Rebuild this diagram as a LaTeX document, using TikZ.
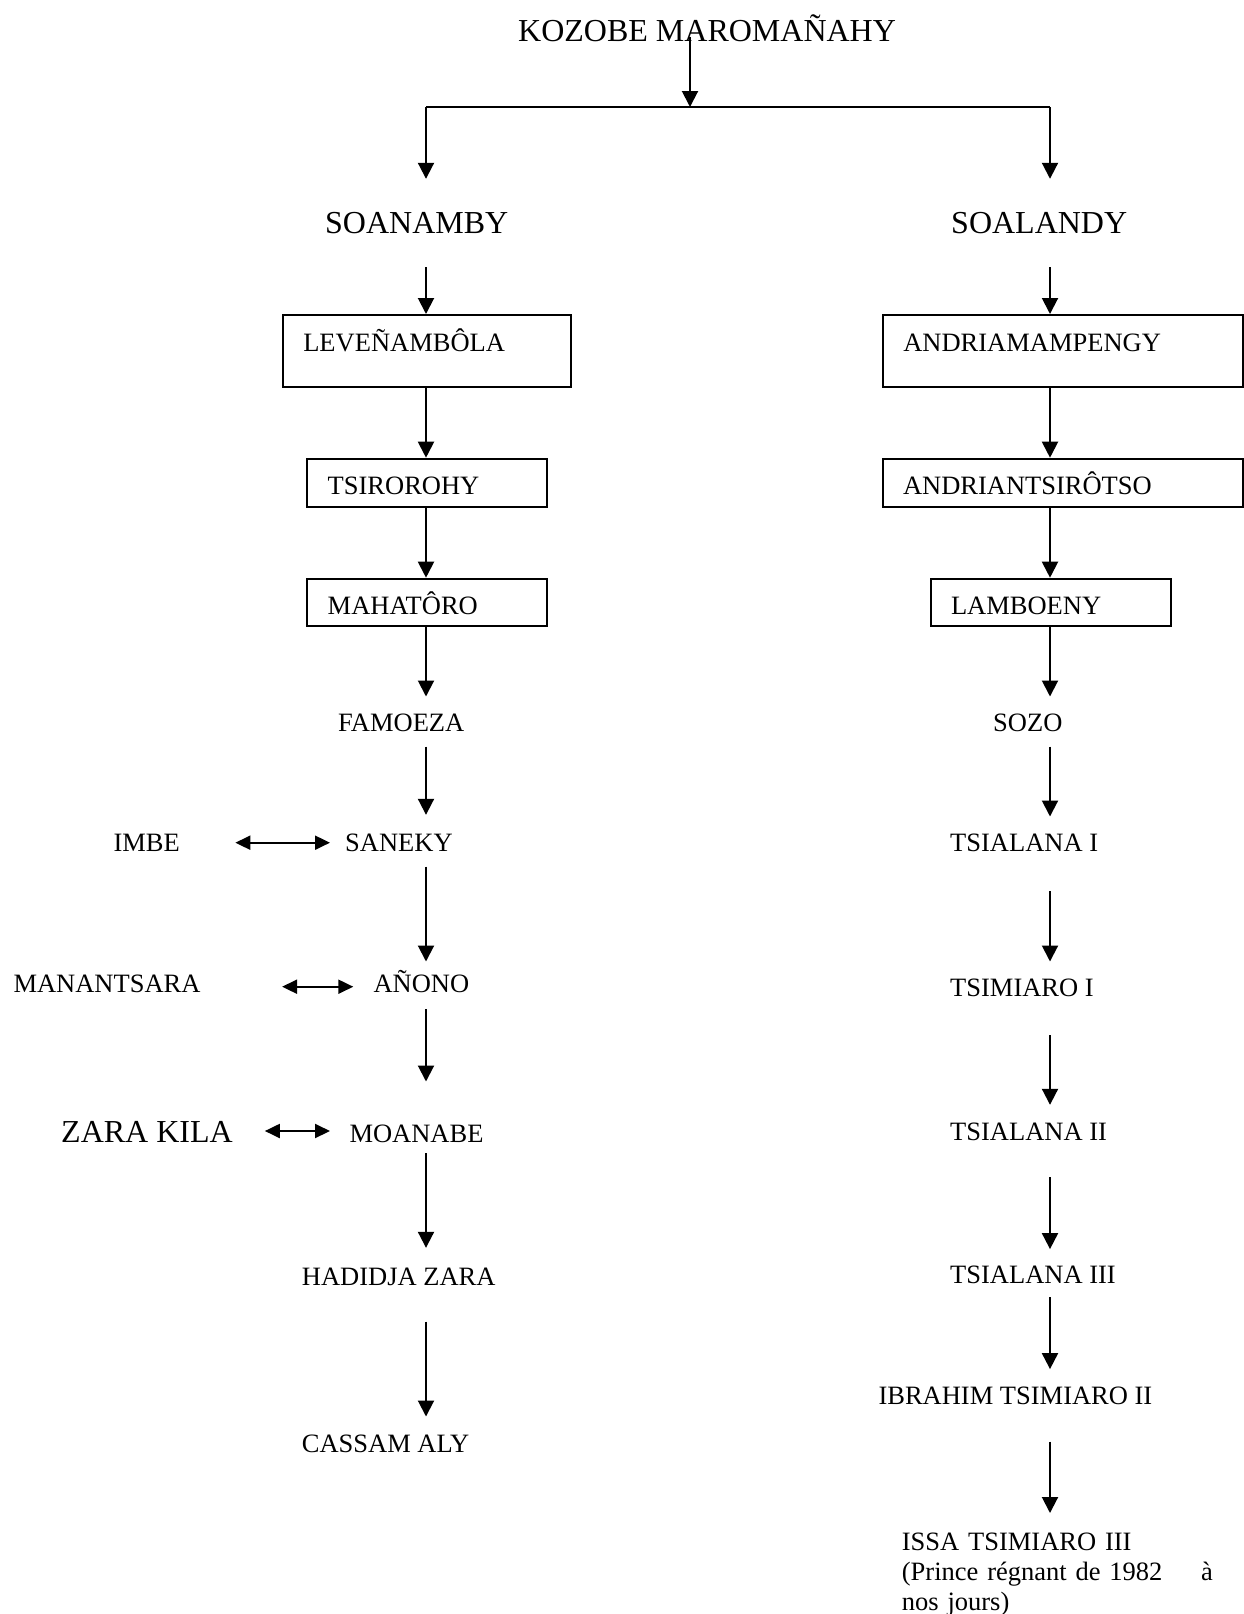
\documentclass[tikz,border=0pt]{standalone}
\usepackage{fontspec}
\setmainfont{Liberation Serif}
\usetikzlibrary{arrows.meta,calc}
\begin{document}
\begin{tikzpicture}[x=1pt,y=-1pt,
  lbl/.style={inner sep=0pt, anchor=base west, text height=18pt, text depth=0pt,
    font=\fontsize{26.5}{30}\selectfont},
  big/.style={lbl, text height=21pt, font=\fontsize{32}{36}\selectfont},
  gen/.style={draw, line width=2pt, anchor=north west, inner ysep=0pt, align=left,
    font=\fontsize{26.5}{30}\selectfont},
  arr/.style={line width=2pt, -{Triangle[width=16pt,length=16pt]}},
  dbl/.style={line width=2pt, {Triangle[width=14pt,length=15pt]}-{Triangle[width=14pt,length=15pt]}}
]
\useasboundingbox (0,0) rectangle (1243,1614);

% column axes and branching point
\coordinate (lcol) at (426,0);
\coordinate (rcol) at (1050,0);
\coordinate (split) at (690,107);

% root and the two branches
\node[big] (kozobe) at (518,41.7) {KOZOBE MAROMAÑAHY};
\node[big] (soanamby) at (325,233) {SOANAMBY};
\node[big] (soalandy) at (951,233) {SOALANDY};

% boxed ancestors, left branch
\node[gen, inner xsep=20.3pt, text width=247pt, text height=36pt, text depth=36pt] (leve) at (282,314) {LEVEÑAMBÔLA};
\node[gen, inner xsep=21pt, text width=198.3pt, text height=35.3pt, text depth=13pt] (tsir) at (305.7,457.7) {TSIROROHY};
\node[gen, inner xsep=21pt, text width=198.3pt, text height=35.6pt, text depth=11.7pt] (maha) at (305.7,577.7) {MAHATÔRO};

% boxed ancestors, right branch
\node[gen, inner xsep=20.6pt, text width=319pt, text height=36pt, text depth=36pt] (andria) at (881.7,314) {ANDRIAMAMPENGY};
\node[gen, inner xsep=20.3pt, text width=319.6pt, text height=35.3pt, text depth=13pt] (andriants) at (881.7,457.7) {ANDRIANTSIRÔTSO};
\node[gen, inner xsep=20pt, text width=200pt, text height=35.3pt, text depth=12pt] (lamboeny) at (930,577.7) {LAMBOENY};

% left line of descent
\node[lbl] (famoeza) at (338,731.7) {FAMOEZA};
\node[lbl] (saneky) at (345,851.7) {SANEKY};
\node[lbl] (anono) at (373.3,992.7) {AÑONO};
\node[lbl] (moanabe) at (349.3,1142.7) {MOANABE};
\node[lbl] (hadidja) at (301.7,1285) {HADIDJA ZARA};
\node[lbl] (cassam) at (301.7,1452.7) {CASSAM ALY};

% spouses
\node[lbl] (imbe) at (113.3,851.7) {IMBE};
\node[lbl] (manantsara) at (13.3,992.7) {MANANTSARA};
\node[big] (zarakila) at (61,1142.7) {ZARA KILA};

% right line of descent
\node[lbl] (sozo) at (993,731.7) {SOZO};
\node[lbl] (tsialanaI) at (950,851.7) {TSIALANA I};
\node[lbl] (tsimiaroI) at (950,996.7) {TSIMIARO I};
\node[lbl] (tsialanaII) at (950,1140) {TSIALANA II};
\node[lbl] (tsialanaIII) at (950,1283.3) {TSIALANA III};
\node[lbl] (ibrahim) at (878.3,1404) {IBRAHIM TSIMIARO II};
\node[inner sep=0pt, anchor=base west, text width=311pt, align=left,
  font=\fontsize{26.5}{30}\selectfont] (issa) at (901.7,1550)
  {ISSA TSIMIARO III\\(Prince régnant de 1982\hfill à\\nos jours)};

% root to branches
\draw[arr] ($(kozobe.base -| split)+(0,-5)$) -- (split);
\draw[line width=2pt] (split -| lcol) -- (split -| rcol);
\draw[arr, shorten >=33pt] (split -| lcol) -- (soanamby.north -| lcol);
\draw[arr, shorten >=33pt] (split -| rcol) -- (soalandy.north -| rcol);

% left branch connectors
\draw[arr, shorten <=34pt] (soanamby.base -| lcol) -- (leve.north -| lcol);
\draw[arr] (leve.south -| lcol) -- (tsir.north -| lcol);
\draw[arr] (tsir.south -| lcol) -- (maha.north -| lcol);
\draw[arr, shorten >=17pt] (maha.south -| lcol) -- (famoeza.north -| lcol);
\draw[arr, shorten <=15pt, shorten >=18.7pt] (famoeza.base -| lcol) -- (saneky.north -| lcol);
\draw[arr, shorten <=15pt, shorten >=13pt] (saneky.base -| lcol) -- (anono.north -| lcol);
\draw[arr, shorten <=16.3pt, shorten >=43pt] (anono.base -| lcol) -- (moanabe.north -| lcol);
\draw[arr, shorten <=10.3pt, shorten >=19pt] (moanabe.base -| lcol) -- (hadidja.north -| lcol);
\draw[arr, shorten <=36.7pt, shorten >=18pt] (hadidja.base -| lcol) -- (cassam.north -| lcol);

% marriages
\draw[dbl, shorten <=55.4pt, shorten >=15pt] ($(imbe.base east)+(0,-9)$) -- ($(saneky.base west)+(0,-9)$);
\draw[dbl, shorten <=81.4pt, shorten >=20pt] ($(manantsara.base east)+(0,-6)$) -- ($(anono.base west)+(0,-6)$);
\draw[dbl, shorten <=31.9pt, shorten >=19.3pt] ($(zarakila.base east)+(0,-11.7)$) -- ($(moanabe.base west)+(0,-11.7)$);

% right branch connectors
\draw[arr, shorten <=34pt] (soalandy.base -| rcol) -- (andria.north -| rcol);
\draw[arr] (andria.south -| rcol) -- (andriants.north -| rcol);
\draw[arr] (andriants.south -| rcol) -- (lamboeny.north -| rcol);
\draw[arr, shorten >=17pt] (lamboeny.south -| rcol) -- (sozo.north -| rcol);
\draw[arr, shorten <=15pt, shorten >=17pt] (sozo.base -| rcol) -- (tsialanaI.north -| rcol);
\draw[arr, shorten <=39.3pt, shorten >=17pt] (tsialanaI.base -| rcol) -- (tsimiaroI.north -| rcol);
\draw[arr, shorten <=38.3pt, shorten >=17pt] (tsimiaroI.base -| rcol) -- (tsialanaII.north -| rcol);
\draw[arr, shorten <=37.3pt, shorten >=16pt] (tsialanaII.base -| rcol) -- (tsialanaIII.north -| rcol);
\draw[arr, shorten <=13.7pt, shorten >=16.7pt] (tsialanaIII.base -| rcol) -- (ibrahim.north -| rcol);
\draw[arr, shorten <=37.7pt, shorten >=37pt] (ibrahim.base -| rcol) -- (issa.base -| rcol);
\end{tikzpicture}
\end{document}
